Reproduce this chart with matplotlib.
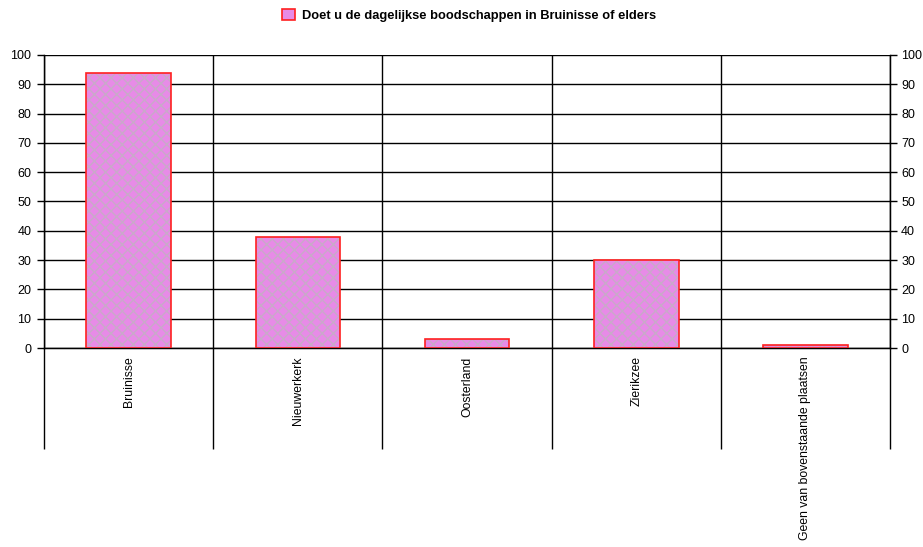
import matplotlib.pyplot as plt
from matplotlib.patches import Patch
import numpy as np

plt.rcParams['font.family'] = ['Liberation Sans', 'DejaVu Sans']

# data
categories = ['Bruinisse', 'Nieuwerkerk', 'Oosterland', 'Zierikzee',
              'Geen van bovenstaande plaatsen']
values = [94, 38, 3, 30, 1]
series_name = 'Doet u de dagelijkse boodschappen in Bruinisse of elders'
yticks = [0, 10, 20, 30, 40, 50, 60, 70, 80, 90, 100]

fig = plt.figure(figsize=(9.23, 5.47), dpi=100)
ax = fig.add_axes([0.0477, 0.3638, 0.9166, 0.5357])

x = np.arange(len(categories))
# fill, then grey dot pattern, then red outline
ax.bar(x, values, width=0.5, color='#e78be7', linewidth=0, zorder=3)
ax.bar(x, values, width=0.5, fill=False, hatch='xxx', edgecolor='#c9a9c9',
       linewidth=0, zorder=3)
ax.bar(x, values, width=0.5, fill=False, edgecolor='#ff2020',
       linewidth=1.2, zorder=4)

ax.set_xlim(-0.5, len(categories) - 0.5)
ax.set_ylim(0, 100)
ax.set_yticks(yticks)
ax.tick_params(axis='y', direction='out', length=5, width=1, labelsize=9,
               pad=4, color='black')
ax.yaxis.grid(True, color='black', linewidth=1)

# category labels, rotated
ax.set_xticks(x)
ax.set_xticklabels(categories, rotation=90, fontsize=8.8, va='top')
ax.tick_params(axis='x', which='major', length=0, pad=6)

# category separators running down through the label area
bounds = np.arange(len(categories) + 1) - 0.5
ax.set_xticks(bounds, minor=True)
ax.tick_params(axis='x', which='minor', direction='out', length=73,
               width=1, color='black')
ax.xaxis.grid(True, which='minor', color='black', linewidth=1)

ax.spines['top'].set_visible(False)
for s in ['left', 'right', 'bottom']:
    ax.spines[s].set_color('black')
    ax.spines[s].set_linewidth(1)

ax2 = ax.twinx()
ax2.set_ylim(0, 100)
ax2.set_yticks(yticks)
ax2.tick_params(axis='y', direction='out', length=5, width=1, labelsize=9,
                pad=3, color='black')
ax2.spines['top'].set_visible(False)

handle = Patch(facecolor='#e78be7', edgecolor='#ff2020', linewidth=1.2,
               label=series_name)
fig.legend(handles=[handle], loc='upper center', bbox_to_anchor=(0.508, 1.005),
           frameon=False, prop={'size': 9.3, 'weight': 'bold'},
           handlelength=1.0, handleheight=1.0, handletextpad=0.5)

fig.savefig('out.png', dpi=100)
